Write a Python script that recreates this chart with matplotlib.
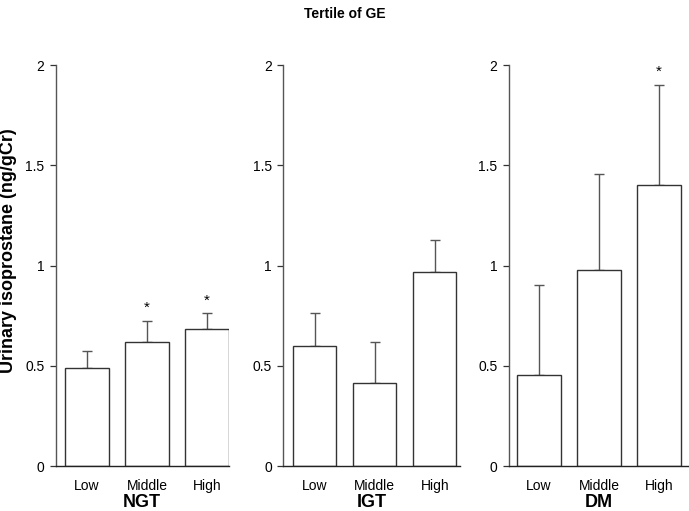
import matplotlib
matplotlib.use("Agg")
import matplotlib.pyplot as plt

plt.rcParams['font.family'] = ['Liberation Sans', 'DejaVu Sans']

categories = ["Low", "Middle", "High"]
groups = ["NGT", "IGT", "DM"]
means = {
    "NGT": [0.487, 0.620, 0.683],
    "IGT": [0.597, 0.415, 0.968],
    "DM": [0.452, 0.980, 1.400],
}
upper_err = {
    "NGT": [0.088, 0.105, 0.078],
    "IGT": [0.165, 0.205, 0.157],
    "DM": [0.453, 0.475, 0.500],
}
stars = {
    "NGT": [False, True, True],
    "IGT": [False, False, False],
    "DM": [False, False, True],
}
yticks = [0, 0.5, 1, 1.5, 2]
yticklabels = ["0", "0.5", "1", "1.5", "2"]

W, H = 689, 511
fig = plt.figure(figsize=(W / 100, H / 100), dpi=100)

# axes boxes in pixels: (left, right), and xlims
boxes = [(55.5, 228.5, (-0.525, 2.36)),
         (283, 460, (-0.527, 2.42)),
         (508.5, 689, (-0.51, 2.5))]
top_px, bot_px = 65, 466

for g, (l, r, xl) in zip(groups, boxes):
    ax = fig.add_axes([l / W, 1 - bot_px / H, (r - l) / W, (bot_px - top_px) / H])
    x = list(range(len(categories)))
    ax.bar(x, means[g], width=0.72, color="white", edgecolor="#333333",
           linewidth=1.0, zorder=2)
    ax.errorbar(x, means[g], yerr=[[0] * 3, upper_err[g]], fmt="none",
                ecolor="#555555", elinewidth=1.0, capsize=3.6, capthick=1.0,
                zorder=1)
    for i, s in enumerate(stars[g]):
        if s:
            ax.text(i, means[g][i] + upper_err[g][i] + 0.03, "*", ha="center",
                    va="bottom", fontsize=11, clip_on=False)
    ax.set_xlim(*xl)
    ax.set_ylim(0, 2)
    ax.set_yticks(yticks)
    ax.set_yticklabels(yticklabels)
    ax.set_xticks(x)
    ax.set_xticklabels(categories)
    ax.tick_params(axis="x", length=0, pad=9.3, labelsize=10)
    ax.tick_params(axis="y", length=4, width=0.9, color="#333333",
                   labelsize=10, pad=4)
    for sp in ["top", "right"]:
        ax.spines[sp].set_visible(False)
    ax.spines["left"].set_color("#555555")
    ax.spines["bottom"].set_color("#222222")
    for sp in ["left", "bottom"]:
        ax.spines[sp].set_linewidth(1.0)
    ax.set_xlabel(g, fontsize=13, fontweight="bold", labelpad=1)
    if g == "NGT":
        ax.set_ylabel("Urinary isoprostane (ng/gCr)", fontsize=13,
                      fontweight="bold")
        ax.yaxis.set_label_coords((17 - l) / (r - l),
                                  (bot_px - 251) / (bot_px - top_px))

fig.text(345 / W, 1 - 14 / H, "Tertile of GE", ha="center", va="center",
         fontsize=10, fontweight="bold")

fig.savefig("out.png", dpi=100)
